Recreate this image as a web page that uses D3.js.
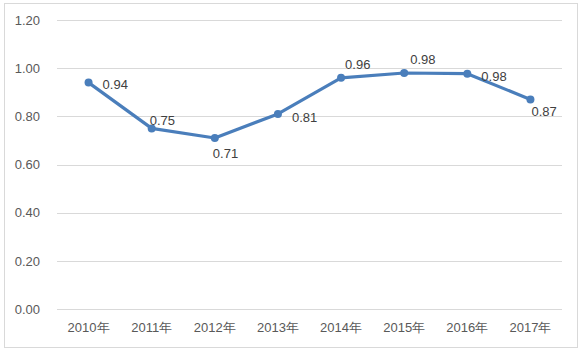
<!DOCTYPE html>
<html><head><meta charset="utf-8">
<script src="https://cdn.jsdelivr.net/npm/d3@7"></script>
<style>body{margin:0;background:#fff}svg{display:block}</style>
</head><body><svg id="c" width="584" height="353"></svg>
<script>
const categories = ["2010年","2011年","2012年","2013年","2014年","2015年","2016年","2017年"];
const values = [0.94, 0.75, 0.71, 0.81, 0.96, 0.98, 0.977, 0.87];
const yTicks = [0, 0.2, 0.4, 0.6, 0.8, 1.0, 1.2];

const svg = d3.select("#c");
const font = "'Liberation Sans', Arial, sans-serif";
svg.append("rect").attr("x",4.5).attr("y",3.5).attr("width",573).attr("height",344)
  .attr("fill","#fff").attr("stroke","#d9d9d9");

const x = d3.scaleBand().domain(categories).range([57,562]);
const y = d3.scaleLinear().domain([0,1.2]).range([309,20]);

const g = svg.append("g");
g.selectAll("line.grid").data(yTicks).enter().append("line")
  .attr("x1",57).attr("x2",562).attr("y1",d=>Math.round(y(d))+0.5).attr("y2",d=>Math.round(y(d))+0.5)
  .attr("stroke","#d9d9d9").attr("stroke-width",1);

const yAxis = svg.append("g").attr("transform","translate(57,0)")
  .call(d3.axisLeft(y).tickValues(yTicks).tickFormat(d3.format(".2f")).tickSize(0).tickPadding(17));
yAxis.select(".domain").remove();
yAxis.selectAll("text").attr("font-family",font).attr("font-size",13).attr("fill","#595959");

const xAxis = svg.append("g").attr("transform","translate(0,309)")
  .call(d3.axisBottom(x).tickSize(0).tickPadding(14));
xAxis.select(".domain").remove();
xAxis.selectAll("text").attr("font-family",font).attr("font-size",13).attr("fill","#595959");

const cx = d => x(d) + x.bandwidth()/2;
const line = d3.line().x((d,i)=>cx(categories[i])).y(d=>y(d));
svg.append("path").datum(values).attr("d",line).attr("fill","none")
  .attr("stroke","#4a7ebb").attr("stroke-width",3.2).attr("stroke-linejoin","round");
svg.selectAll("circle.pt").data(values).enter().append("circle")
  .attr("cx",(d,i)=>cx(categories[i])).attr("cy",d=>y(d)).attr("r",4).attr("fill","#4a7ebb");

// label placement offsets (dx, dy) relative to point
const labelOffsets = [[14,6],[-2,-3],[-2,20],[14,8],[4,-9],[6,-9],[14,7],[1,17]];
svg.selectAll("text.lbl").data(values).enter().append("text")
  .attr("x",(d,i)=>cx(categories[i])+labelOffsets[i][0])
  .attr("y",(d,i)=>y(d)+labelOffsets[i][1])
  .attr("font-family",font).attr("font-size",13).attr("fill","#404040")
  .text(d=>d3.format(".2f")(d));
</script></body></html>
